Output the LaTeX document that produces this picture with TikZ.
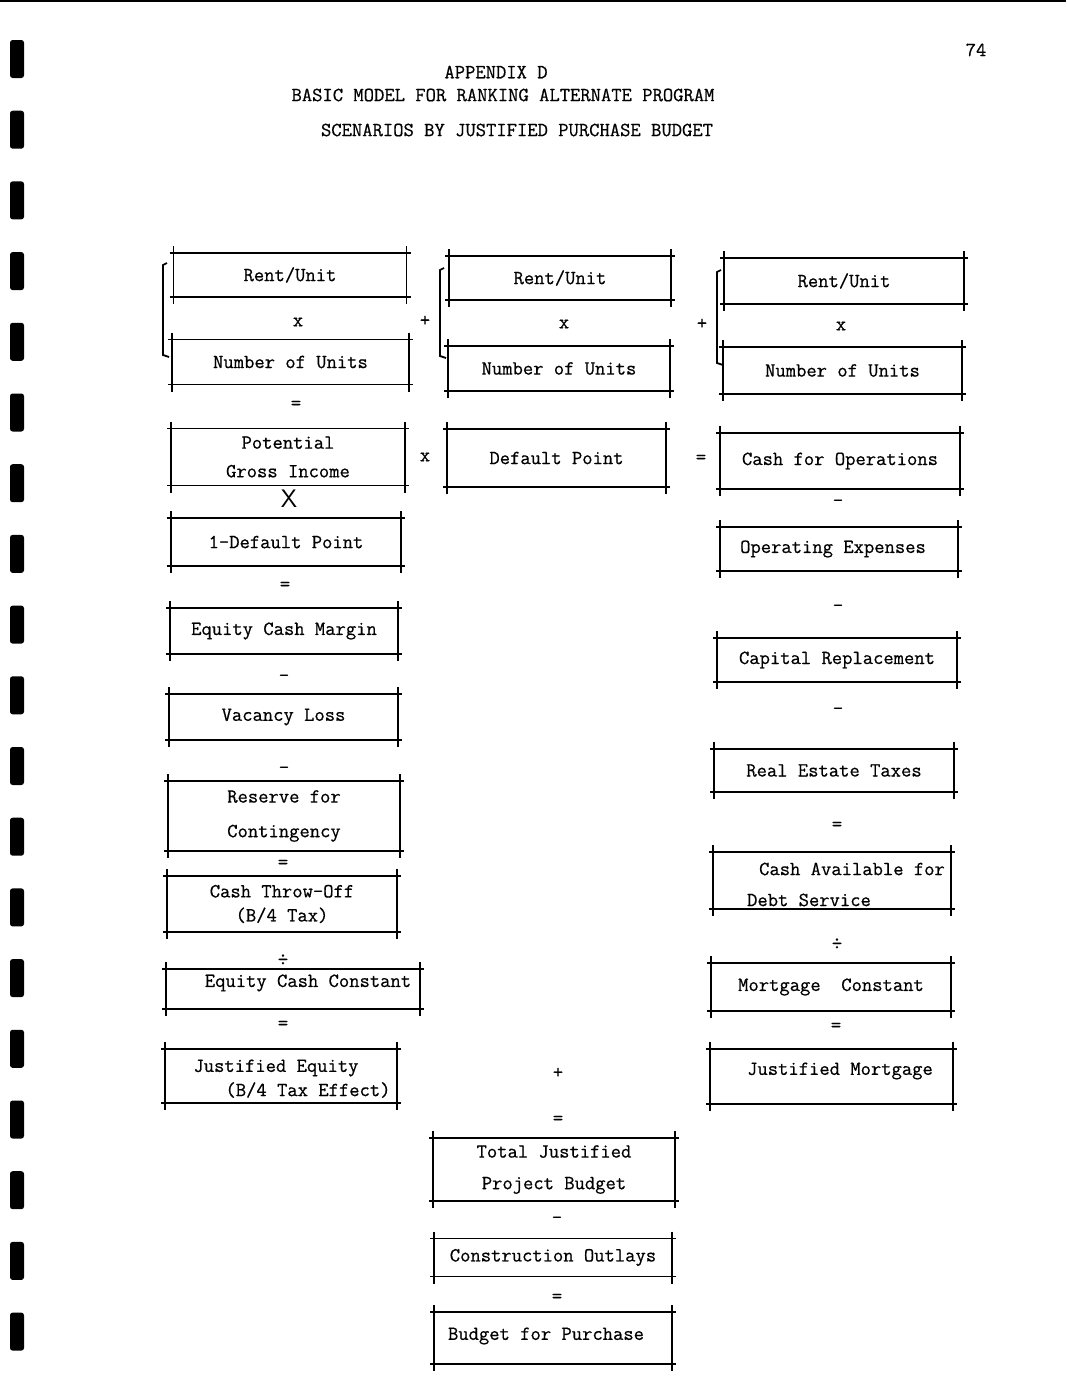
\documentclass[tikz,border=0pt]{standalone}
\usepackage{fontspec}
\newfontfamily\typer[FakeBold=0.6]{Latin Modern Mono}
\newcommand\tw{\typer\fontsize{11.4}{13.7}\selectfont}
\usetikzlibrary{calc}
\tikzset{
	box/.style={rectangle, draw=none, outer sep=0pt, inner sep=0pt, font=\tw, align=center},
	dims/.style 2 args={minimum width=#1*0.02cm, minimum height=#2*0.02cm},
	rule/.style={line width=1pt},
	txt/.style={font=\tw, inner sep=0pt},
}

\begin{document}
\begin{tikzpicture}[x=0.02cm, y=-0.02cm]
			%%%%% START %%%%%
			\useasboundingbox (0, 0) rectangle (1066, 1380);
			\draw[line width=1.5pt] (0, 1) -- (1066, 1);
			
			% holes of the binder
			\foreach \i in {0,...,18}
				\fill[black, rounded corners=1.5pt] (10, {40 + 70.7*\i}) rectangle (24, {78 + 70.7*\i});
			
			% heading
			\node[txt] (page) at (976, 50) {74};
			\node[txt] (head1) at (496, 72) {APPENDIX D};
			\node[txt] (head2) at (503, 95) {BASIC MODEL FOR RANKING ALTERNATE PROGRAM};
			\node[txt] (head3) at (517, 130) {SCENARIOS BY JUSTIFIED PURCHASE BUDGET};
			
			% left column
			\node[box, dims={233}{44}] (rentA) at (290, 275) {Rent/Unit};
			\node[box, dims={237}{45}] (unitsA) at (290.5, 362) {Number of Units};
			\node[box, dims={234}{57}] (pgi) at (288, 457) {Potential\\[2.6pt]Gross Income};
			\node[box, dims={230}{48}] (defA) at (286, 542) {1-Default Point};
			\node[box, dims={228}{46}] (ecm) at (284, 631) {Equity Cash Margin};
			\node[box, dims={229}{46}] (vac) at (283.5, 717) {Vacancy Loss};
			\node[box, dims={232}{70}] (resv) at (284, 816) {Reserve for\\[6pt]Contingency};
			\node[box, dims={230}{56}] (cto) at (282, 904) {Cash Throw-Off\\[0pt](B/4 Tax)};
			\node[box, dims={254}{40}] (ecc) at (293, 989) {};
			\node[txt] (ecc-t) at (308, 983) {Equity Cash Constant};
			\node[box, dims={232}{54}] (je) at (281, 1076) {};
			\node[txt] (je-t1) at (276, 1068) {Justified Equity};
			\node[txt] (je-t2) at (308, 1090) {(B/4 Tax Effect)};
			
			% middle column
			\node[box, dims={222}{44}] (rentB) at (560, 278) {Rent/Unit};
			\node[box, dims={222}{45}] (unitsB) at (559, 368.5) {Number of Units};
			\node[box, dims={219}{58}] (defB) at (556.5, 458) {Default Point};
			\node[box, dims={242}{63}] (tjpb) at (554, 1169.5) {Total Justified\\[4.3pt]Project Budget};
			\node[box, dims={238}{38}] (cons) at (553, 1257.5) {Construction Outlays};
			\node[box, dims={238}{52}] (bfp) at (553, 1338) {};
			\node[txt] (bfp-t) at (546, 1336) {Budget for Purchase};
			
			% right column
			\node[box, dims={240}{46}] (rentC) at (844, 281) {Rent/Unit};
			\node[box, dims={239}{47}] (unitsC) at (842.5, 370.5) {Number of Units};
			\node[box, dims={240}{56}] (cfo) at (840, 461) {Cash for Operations};
			\node[box, dims={238}{44}] (opex) at (839, 549) {};
			\node[txt] (opex-t) at (833, 549) {Operating Expenses};
			\node[box, dims={240}{44}] (capr) at (837, 660) {Capital Replacement};
			\node[box, dims={240}{43}] (ret) at (834, 770.5) {Real Estate Taxes};
			\node[box, dims={238}{57}] (cads) at (832, 880.5) {};
			\node[txt] (cads-t1) at (852, 869) {Cash Available for};
			\node[txt] (cads-t2) at (809, 900) {Debt Service};
			\node[box, dims={240}{48}] (mc) at (831, 987) {Mortgage\ \ Constant};
			\node[box, dims={243}{55}] (jm) at (831.5, 1076.5) {};
			\node[txt] (jm-t) at (840, 1071) {Justified Mortgage};
			
			% ruled edges, overshooting at the corners
			\foreach \b in {rentA,unitsA,pgi,defA,ecm,vac,resv,cto,ecc,je,rentB,unitsB,defB,tjpb,cons,bfp,rentC,unitsC,cfo,opex,capr,ret,cads,mc,jm} {
				\draw[rule] ($(\b.north west)+(-4,0)$) -- ($(\b.north east)+(4,0)$);
				\draw[rule] ($(\b.south west)+(-4,0)$) -- ($(\b.south east)+(4,0)$);
				\draw[rule] ($(\b.north west)+(0,-7)$) -- ($(\b.south west)+(0,7)$);
				\draw[rule] ($(\b.north east)+(0,-7)$) -- ($(\b.south east)+(0,7)$);
			}
			
			% braces
			\draw[rule] (167, 263) -- (163, 265) -- (163, 355) -- (169, 357);
			\draw[rule] (444, 268) -- (440, 270) -- (440, 356) -- (446, 358);
			\draw[rule] (721, 270) -- (717, 272) -- (717, 363) -- (723, 365);
			
			% operators
			\node[txt] (xA) at (298, 322) {x};
			\node[txt] (eqA) at (296, 405) {=};
			\node[txt, font=\Large\sffamily] (XA) at (289, 499) {X};
			\node[txt] (eqB) at (285, 586) {=};
			\node[txt] (minA) at (284, 678) {-};
			\node[txt] (minB) at (284, 770) {-};
			\node[txt] (eqC) at (283, 864) {=};
			\node[txt] (divA) at (283, 960) {÷};
			\node[txt] (eqD) at (283, 1025) {=};
			\node[txt] (plusA) at (425, 321) {+};
			\node[txt] (timesB) at (425, 457) {x};
			\node[txt] (xB) at (564, 324) {x};
			\node[txt] (plusB) at (702, 324) {+};
			\node[txt] (eqE) at (701, 459) {=};
			\node[txt] (xC) at (841, 326) {x};
			\node[txt] (minC) at (838, 503) {-};
			\node[txt] (minD) at (838, 608) {-};
			\node[txt] (minE) at (838, 711) {-};
			\node[txt] (eqF) at (837, 826) {=};
			\node[txt] (divB) at (837, 944) {÷};
			\node[txt] (eqG) at (836, 1027) {=};
			\node[txt] (plusC) at (558, 1073) {+};
			\node[txt] (eqH) at (558, 1120) {=};
			\node[txt] (minF) at (557, 1220) {-};
			\node[txt] (eqI) at (557, 1298) {=};
			%%%%% END %%%%%
\end{tikzpicture}
\end{document}
